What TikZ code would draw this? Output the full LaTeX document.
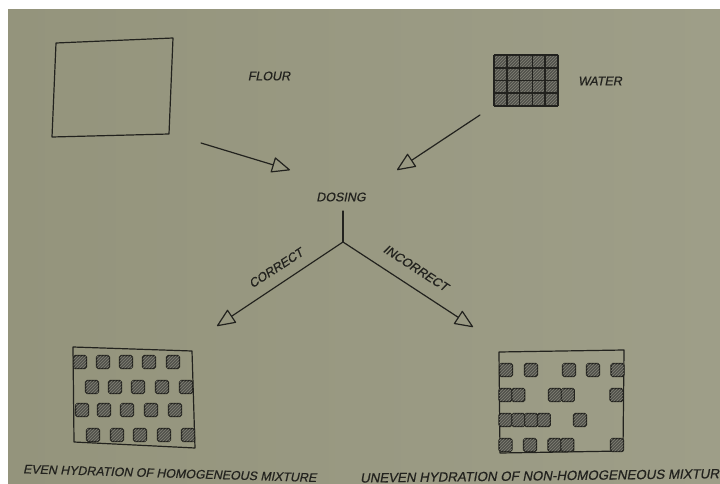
\documentclass[tikz,border=0pt]{standalone}
\usepackage{fontspec}
\setmainfont{Liberation Sans}
% oblique Helvetica-like lettering, slightly heavy as printed
\newfontfamily\labfont{Liberation Sans}[FakeSlant=0.2, FakeBold=0.5]
\usetikzlibrary{arrows.meta,patterns}

\definecolor{paperL}{RGB}{148,148,124}
\definecolor{paperM}{RGB}{166,166,144}
\definecolor{paperR}{RGB}{158,158,136}
\definecolor{ink}{RGB}{34,34,30}
\definecolor{cellfill}{RGB}{82,82,76}
\definecolor{cellhatch}{RGB}{130,130,118}

\tikzset{
  txt/.style={font=\labfont\fontsize{12.5}{14}\selectfont, text=ink, inner sep=0pt},
  outline/.style={draw=ink, line width=1.2pt, line join=round},
  link/.style={draw=ink, line width=1.2pt, line cap=round},
  arr/.style={link, -{Triangle[open,length=19pt,width=16pt,line width=1.2pt,round]}},
  cell/.style={draw=ink, line width=1.3pt, rounded corners=1.5pt, fill=cellfill,
    postaction={pattern=north east lines, pattern color=cellhatch}},
}
% one hatched particle, centred at (#1,#2)
\newcommand\hatchcell[2]{\path[cell] ({#1-6.4},{#2-6.4}) rectangle ++(12.8,12.8);}

\begin{document}
\begin{tikzpicture}[x=1pt,y=-1pt]
\useasboundingbox (0,0) rectangle (720,484);

% page
\fill[white] (0,0) rectangle (720,484);
\shade[left color=paperL, middle color=paperM, right color=paperR] (8,10) rectangle (720,484);

% flour: empty box
\draw[outline] (56,43) -- (173,38) -- (169,134) -- (52,137) -- cycle;
\node[txt] (flour) at (269,76) {FLOUR};

% water: hatched grid
\fill[cellfill] (494,55) rectangle (558,106);
\fill[pattern=north east lines, pattern color=cellhatch] (494,55) rectangle (558,106);
\foreach \gx in {494,506.8,519.6,532.4,545.2,558}
  {\draw[ink, line width=1.6pt] (\gx,55) -- (\gx,106);}
\foreach \gy in {55,67.75,80.5,93.25,106}
  {\draw[ink, line width=1.6pt] (494,\gy) -- (558,\gy);}
\node[txt] (water) at (600,81) {WATER};

% inputs to dosing
\coordinate (fs) at (201,143);
\coordinate (ft) at (290,170);
\coordinate (ws) at (480,115);
\coordinate (wt) at (397,170);
\draw[arr] (fs) -- (ft);
\draw[arr] (ws) -- (wt);

\node[txt] (dosing) at (341,197) {DOSING};
\coordinate (stem) at (343,211);
\coordinate (junc) at (343,242);
\coordinate (ctip) at (217,326);
\coordinate (itip) at (473,327);
\draw[link] (stem) -- (junc);
\draw[arr] (junc) -- (ctip);
\draw[arr] (junc) -- (itip);
\node[txt, rotate=33] (correct) at (276,268) {CORRECT};
\node[txt, rotate=-33] (incorrect) at (416,268) {INCORRECT};

% even hydration
\draw[outline] (73,347) -- (192,351) -- (195,448) -- (74,442) -- cycle;
\foreach \cx in {80,103,126,149,173} {\hatchcell{\cx}{362}}
\foreach \cx in {92,115,138,162,186} {\hatchcell{\cx}{387}}
\foreach \cx in {82,104,127,151,175} {\hatchcell{\cx}{410}}
\foreach \cx in {93,117,140,164,188} {\hatchcell{\cx}{435}}

% uneven hydration
\draw[outline] (499,352) -- (624,350) -- (623,451) -- (500,453) -- cycle;
\foreach \cx in {506,531,569,593,617.5} {\hatchcell{\cx}{370}}
\foreach \cx in {505.5,518.3,555,567.8,616.5} {\hatchcell{\cx}{395}}
\foreach \cx in {505.5,518.3,531.1,543.9,580} {\hatchcell{\cx}{420}}
\foreach \cx in {505.5,530,554.5,567.3,617} {\hatchcell{\cx}{445}}

% captions
\node[txt, font=\labfont\fontsize{12.4}{14}\selectfont, anchor=west, rotate=-1.7] (even) at (23,469) {EVEN HYDRATION OF HOMOGENEOUS MIXTURE};
\node[txt, font=\labfont\fontsize{13.3}{15}\selectfont, anchor=west, rotate=0.7] (uneven) at (360,478) {UNEVEN HYDRATION OF NON-HOMOGENEOUS MIXTURE};
\end{tikzpicture}
\end{document}
